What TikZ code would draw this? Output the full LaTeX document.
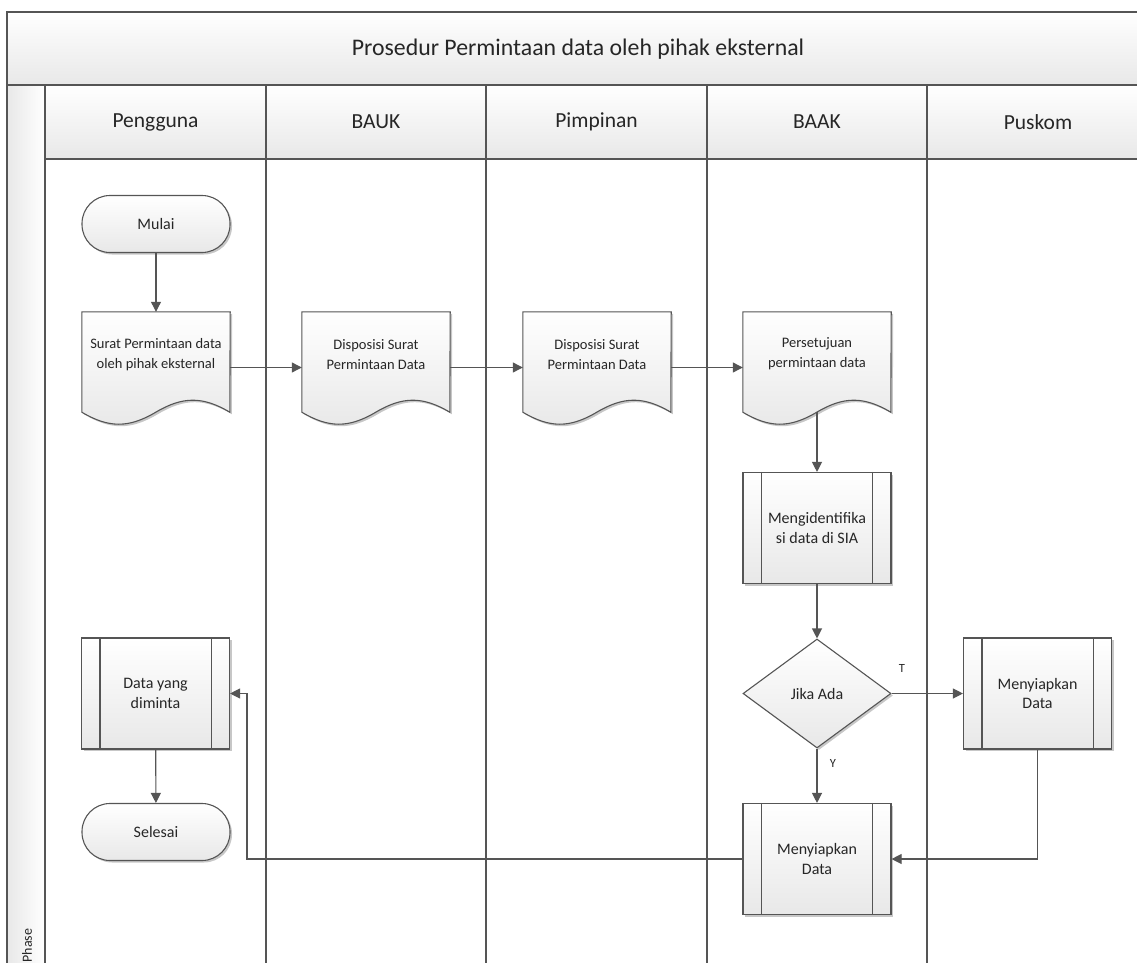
\documentclass[tikz,border=0pt]{standalone}
\usepackage{fontspec}
\setmainfont{Carlito}
\usetikzlibrary{arrows.meta,calc,shadows,shapes.geometric}
\definecolor{ln}{HTML}{555555}
\definecolor{fillb}{HTML}{E8E8E8}
\definecolor{txt}{HTML}{262626}
\newcommand\docshape[1]{%
  \path[shp] (#1.north west) -- (#1.north east) -- ($(#1.south west)+(148,-11)$)
    .. controls ($(#1.south west)+(121,-27)$) and ($(#1.south west)+(101,-27)$) .. ($(#1.south west)+(74,-11)$)
    .. controls ($(#1.south west)+(47,5)$) and ($(#1.south west)+(27,5)$) .. ($(#1.south west)+(0,-11)$) -- cycle;}
\begin{document}
\begin{tikzpicture}[x=1pt,y=-1pt,
  frame/.style={draw=ln,line width=1.6pt},
  hdr/.style={top color=white,bottom color=fillb},
  shp/.style={draw=ln,line width=1.1pt,top color=white,bottom color=fillb,
    drop shadow={shadow xshift=2pt,shadow yshift=-2pt,opacity=0.22,fill=black}},
  proc/.style={shp,rectangle,minimum width=148pt,minimum height=111pt,inner sep=0pt,align=center,text=txt,
    font=\fontsize{16}{19.5}\selectfont},
  term/.style={shp,rectangle,rounded corners=28pt,minimum width=148pt,minimum height=57pt,inner sep=0pt,text=txt,
    font=\fontsize{16}{19.5}\selectfont},
  docbox/.style={rectangle,minimum width=148pt,minimum height=111pt,inner sep=0pt},
  doctext/.style={align=center,text=txt,font=\fontsize{14.5}{20}\selectfont},
  dec/.style={shp,diamond,aspect=1.358,minimum width=148pt,minimum height=109pt,inner sep=0pt,text=txt,
    font=\fontsize{16}{19.5}\selectfont},
  lane/.style={text=txt,font=\fontsize{21.5}{25}\selectfont},
  lbl/.style={text=txt,font=\fontsize{12.5}{15}\selectfont},
  arr/.style={draw=ln,line width=1.1pt,-{Triangle[length=10pt,width=10pt]}}
]
\useasboundingbox (0,0) rectangle (1137,963);
% pool frame
\path[hdr] (7,12) rectangle (1170,85);
\path[left color=fillb,right color=white] (7,85) rectangle (45,990);
\path[hdr] (45,85) rectangle (1170,159);
\draw[frame] (1170,12) -- (7,12) -- (7,990);
\draw[frame] (7,85) -- (1170,85);
\draw[frame] (45,85) -- (45,990);
\draw[frame] (45,159) -- (1170,159);
\foreach \xx in {266,486,707,927} \draw[frame] (\xx,85) -- (\xx,990);
\node[lane,font=\fontsize{23.8}{28}\selectfont] (title) at (578,49) {Prosedur Permintaan data oleh pihak eksternal};
\node[lane] (h1) at (155.5,122) {Pengguna};
\node[lane] (h2) at (376,122) {BAUK};
\node[lane] (h3) at (596.5,122) {Pimpinan};
\node[lane] (h4) at (817,122) {BAAK};
\node[lane] (h5) at (1038,122) {Puskom};
\node[text=txt,font=\fontsize{14}{16}\selectfont,rotate=90,anchor=west] (phase) at (27,966) {Phase};
% terminals
\node[term] (mulai) at (156,224) {Mulai};
\node[term] (sel) at (156,832) {Selesai};
% documents
\node[docbox] (d1) at (156,367.5) {};
\node[docbox] (d2) at (376,367.5) {};
\node[docbox] (d3) at (597,367.5) {};
\node[docbox] (d4) at (817,367.5) {};
\foreach \n in {d1,d2,d3,d4} \docshape{\n};
\node[doctext] at ([yshift=12.5pt]d1.center) {Surat Permintaan data\\oleh pihak eksternal};
\node[doctext] at ([yshift=12.5pt]d2.center) {Disposisi Surat\\Permintaan Data};
\node[doctext] at ([yshift=12.5pt]d3.center) {Disposisi Surat\\Permintaan Data};
\node[doctext] at ([yshift=14pt]d4.center) {Persetujuan\\permintaan data};
% processes
\node[proc] (mi) at (817,528) {Mengidentifika\\si data di SIA};
\node[proc] (pk) at (1037.5,693.5) {Menyiapkan\\Data};
\node[proc] (bp) at (817,859) {Menyiapkan\\Data};
\node[proc] (dy) at (155.5,693.5) {Data yang\\diminta};
\foreach \n in {mi,pk,bp,dy}{
  \draw[ln,line width=1.1pt] ([xshift=19pt]\n.north west) -- ([xshift=19pt]\n.south west);
  \draw[ln,line width=1.1pt] ([xshift=-19pt]\n.north east) -- ([xshift=-19pt]\n.south east);
}
% decision
\node[dec] (dm) at (817,693.5) {Jika Ada};
\node[lbl] (lt) at (902,668) {T};
\node[lbl] (ly) at (833,763) {Y};
% connectors
\coordinate (bend) at (247,859);
\draw[arr] (mulai) -- (d1);
\draw[arr] (d1) -- (d2);
\draw[arr] (d2) -- (d3);
\draw[arr] (d3) -- (d4);
\draw[arr] ($(d4.south)+(0,-11)$) -- (mi);
\draw[arr] (mi) -- (dm);
\draw[arr] (dm.east) -- (pk);
\draw[arr] (dm.south) -- (bp);
\draw[arr] (pk.south) |- (bp.east);
\draw[arr] (bp.west) -- (bend) |- (dy.east);
\draw[arr] (dy) -- (sel);
\end{tikzpicture}
\end{document}
